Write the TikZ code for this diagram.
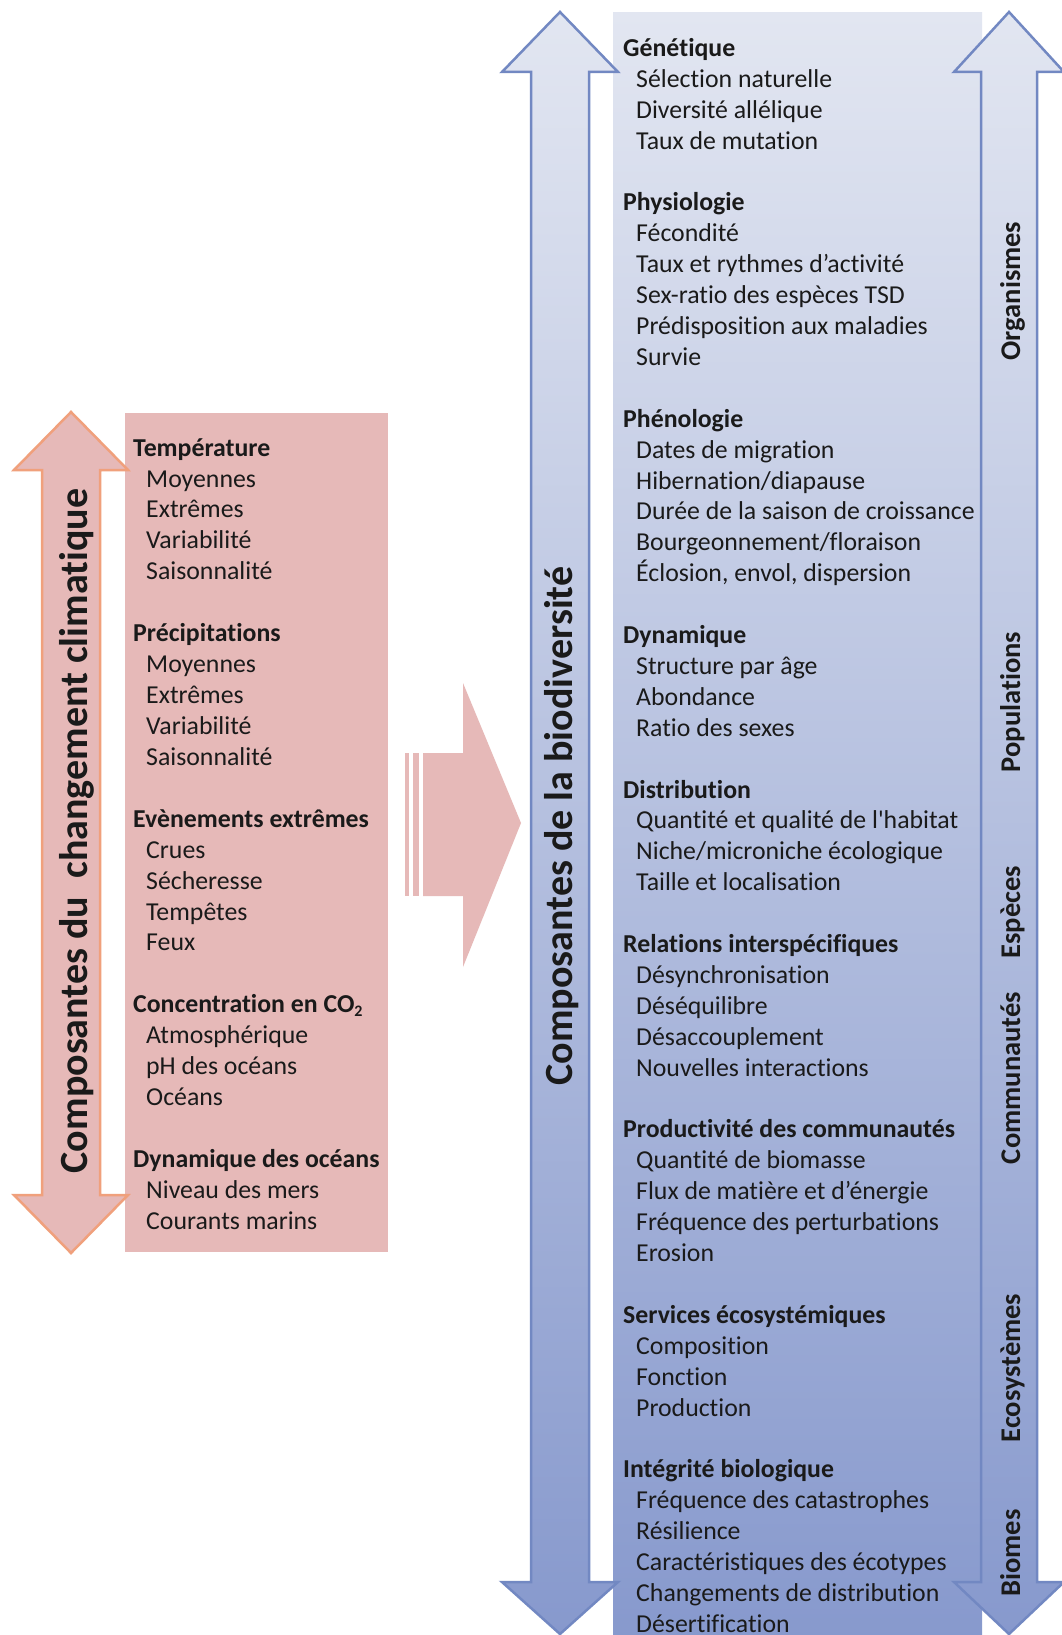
\documentclass[tikz,border=0pt]{standalone}
\usepackage{fontspec}
\setmainfont{Carlito}[Ligatures={NoCommon}]
\newfontfamily\plainfont{Carlito}
\definecolor{pinkbox}{HTML}{E6B9B8}
\definecolor{pinkarrow}{HTML}{E6B9B8}
\definecolor{orangeline}{HTML}{F0A07C}
\definecolor{blueline}{HTML}{7288C2}
\definecolor{bluetop}{HTML}{E2E6F1}
\definecolor{bluebot}{HTML}{8799CD}
\definecolor{txt}{HTML}{1A1A1A}
\tikzset{
  body/.style={anchor=base west, inner sep=0pt, font=\fontsize{25.8}{31}\selectfont, text=txt},
  head/.style={body, font=\fontsize{25.8}{31}\selectfont\bfseries},
  title/.style={rotate=90, anchor=base, inner sep=0pt, font=\fontsize{40}{48}\selectfont\bfseries, text=txt},
  levellabel/.style={rotate=90, anchor=base, inner sep=0pt, font=\fontsize{28.5}{34}\selectfont\bfseries, text=txt},
  orangearrow/.style={fill=pinkarrow, draw=orangeline, line width=2.5pt, line join=miter},
  bluearrow/.style={top color=bluetop, bottom color=bluebot, draw=blueline, line width=2.5pt, line join=miter},
}
\newcommand\LH[2]{\node[head] (lh#1) at (133,{446.1+30.93*#1+10}) {#2};}
\newcommand\LI[2]{\node[body] (li#1) at (146,{446.1+30.93*#1+10}) {#2};}
\newcommand\BH[2]{\node[head] (bh#1) at (623,{45.9+30.9*#1+10.5}) {#2};}
\newcommand\BI[2]{\node[body] (bi#1) at (636,{45.9+30.9*#1+10.5}) {#2};}
\begin{document}
\begin{tikzpicture}[x=1pt,y=-1pt]
\useasboundingbox[fill=white] (0,0) rectangle (1061,1635);
% left: climate change
\fill[pinkbox] (125,413) rectangle (388,1252);
\draw[orangearrow] (71,412) -- (128,470) -- (100,470) -- (100,1195) -- (128,1195) -- (71,1253)
  -- (14,1195) -- (42,1195) -- (42,470) -- (14,470) -- cycle;
\node[title] (clim) at (87,831) {Composantes du\ \ changement climatique};
% middle arrow
\fill[pinkarrow] (405,753) rectangle (409,896);
\fill[pinkarrow] (413,753) rectangle (419,896);
\fill[pinkarrow] (423,753) -- (463,753) -- (463,683) -- (521,823) -- (463,967) -- (463,896) -- (423,896) -- cycle;
% right: biodiversity
\shade[top color=bluetop, bottom color=bluebot] (613,13) rectangle (982,1640);
\draw[bluearrow] (560,12) -- (618,72) -- (589,72) -- (589,1582) -- (618,1582) -- (560,1634)
  -- (502,1582) -- (531,1582) -- (531,72) -- (502,72) -- cycle;
\draw[bluearrow] (1009,12) -- (1064,72) -- (1037,72) -- (1037,1582) -- (1064,1582) -- (1009,1634)
  -- (954,1582) -- (981,1582) -- (981,72) -- (954,72) -- cycle;
\node[title] (bio) at (572,826) {Composantes de la biodiversité};
\node[levellabel] (org) at (1020,291) {Organismes};
\node[levellabel] (pop) at (1020,702) {Populations};
\node[levellabel] (esp) at (1020,912) {Espèces};
\node[levellabel] (com) at (1020,1078) {Communautés};
\node[levellabel] (eco) at (1020,1368) {Ecosystèmes};
\node[levellabel] (bio2) at (1020,1553) {Biomes};
% left texts
\LH{0}{Température}
\LI{1}{Moyennes}
\LI{2}{Extrêmes}
\LI{3}{Variabilité}
\LI{4}{Saisonnalité}
\LH{6}{Précipitations}
\LI{7}{Moyennes}
\LI{8}{Extrêmes}
\LI{9}{Variabilité}
\LI{10}{Saisonnalité}
\LH{12}{Evènements extrêmes}
\LI{13}{Crues}
\LI{14}{Sécheresse}
\LI{15}{Tempêtes}
\LI{16}{Feux}
\LH{18}{Concentration en CO\raisebox{-4pt}{\fontsize{16}{16}\selectfont 2}}
\LI{19}{Atmosphérique}
\LI{20}{pH des océans}
\LI{21}{Océans}
\LH{23}{Dynamique des océans}
\LI{24}{Niveau des mers}
\LI{25}{Courants marins}
% right texts
\BH{0}{Génétique}
\BI{1}{Sélection naturelle}
\BI{2}{Diversité allélique}
\BI{3}{Taux de mutation}
\BH{5}{Physiologie}
\BI{6}{Fécondité}
\BI{7}{Taux et rythmes d’activité}
\BI{8}{Sex-ratio des espèces TSD}
\BI{9}{Prédisposition aux maladies}
\BI{10}{Survie}
\BH{12}{Phénologie}
\BI{13}{Dates de migration}
\BI{14}{Hibernation/diapause}
\BI{15}{Durée de la saison de croissance}
\BI{16}{Bourgeonnement/floraison}
\BI{17}{Éclosion, envol, dispersion}
\BH{19}{Dynamique}
\BI{20}{Structure par âge}
\BI{21}{Abondance}
\BI{22}{Ratio des sexes}
\BH{24}{Distribution}
\BI{25}{Quantité et qualité de l{\plainfont'}habitat}
\BI{26}{Niche/microniche écologique}
\BI{27}{Taille et localisation}
\BH{29}{Relations interspécifiques}
\BI{30}{Désynchronisation}
\BI{31}{Déséquilibre}
\BI{32}{Désaccouplement}
\BI{33}{Nouvelles interactions}
\BH{35}{Productivité des communautés}
\BI{36}{Quantité de biomasse}
\BI{37}{Flux de matière et d’énergie}
\BI{38}{Fréquence des perturbations}
\BI{39}{Erosion}
\BH{41}{Services écosystémiques}
\BI{42}{Composition}
\BI{43}{Fonction}
\BI{44}{Production}
\BH{46}{Intégrité biologique}
\BI{47}{Fréquence des catastrophes}
\BI{48}{Résilience}
\BI{49}{Caractéristiques des écotypes}
\BI{50}{Changements de distribution}
\BI{51}{Désertification}
\end{tikzpicture}
\end{document}
